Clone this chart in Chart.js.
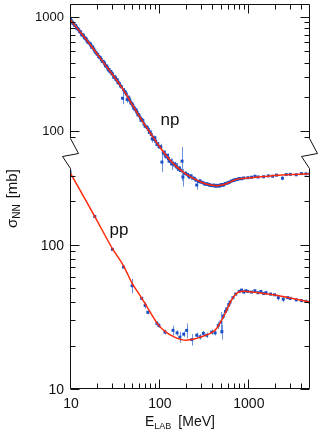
<!DOCTYPE html>
<html lang="en">
<head>
<meta charset="UTF-8">
<title>NN total cross sections</title>
<script src="https://cdn.jsdelivr.net/npm/chart.js@4"></script>
<style>
  html, body { margin: 0; padding: 0; background: #fff; }
  .wrap { position: relative; width: 318px; height: 436px; }
</style>
</head>
<body>
<div class="wrap"><canvas id="xs"></canvas></div>
<script>
// lab energy in MeV, cross sections in mb

// np fit curve
const npCurveE = [10, 12, 15, 20, 25, 30, 40, 50, 60, 70, 80, 100, 120, 150, 200, 250, 300, 350, 400, 450, 500, 550, 600, 700, 800, 1000, 1500, 2000, 3000, 5000];
const npCurveS = [955, 800, 645, 480, 380, 315, 230, 172, 136, 113, 97, 75, 62, 51, 42.5, 38.5, 36, 34.5, 33.8, 33.5, 33.8, 34.5, 35.5, 37.5, 38.5, 39.2, 40.3, 41.2, 42, 42.6];

// np measurements, first group
const npE = [10, 10.3, 10.8, 11.2, 11.6, 12, 12.5, 13, 13.5, 14, 14.5, 15, 15.5, 16, 17, 17.5, 18, 19, 20, 21, 22, 23, 24, 25, 26, 27, 28, 29, 30, 31, 32, 33, 34, 35, 37, 39, 40, 42, 44, 46, 48, 50, 52, 55, 58, 60, 63, 66, 70, 74, 78, 80, 84, 88, 90, 95, 100, 105, 108, 115, 120, 125, 130, 139, 150, 158, 170, 182, 186, 200, 210, 220, 230, 250, 266, 290, 310, 330, 350, 370, 390, 410, 430, 450, 470, 490, 510, 530, 560, 600, 650, 700, 750, 800, 850, 900, 1000, 1100, 1200, 1300, 1500, 1700, 1900, 2100, 2450, 2700, 3000, 3500, 4000, 4500, 5000];
const npS = [940, 935, 880, 850, 840, 790, 775, 745, 700, 695, 660, 650, 620, 600, 580, 545, 548, 505, 478, 452, 440, 410, 405, 376, 372, 345, 336, 331, 318, 298, 300, 284, 282, 266, 250, 195, 232, 220, 190, 196, 180, 174, 160, 155, 140, 137, 125, 124, 111, 108, 98, 99, 86, 85, 88, 77, 74, 73, 54, 66, 60, 62, 55, 52, 52, 49, 48, 55, 40, 43, 42, 40, 41, 39, 34, 37, 35.8, 34.6, 34.8, 34, 33.7, 33.9, 33.3, 33.8, 33.4, 34, 34.2, 34, 35.1, 35.7, 36.8, 37.6, 38, 38.7, 38.6, 39.2, 39.4, 39.8, 40.6, 40, 40.2, 40.9, 40.6, 41.5, 39, 42, 42.2, 41.8, 42.8, 42.6, 42.5];
const npErr = [20, 15, 15, 12, 12, 12, 10, 10, 10, 10, 10, 8, 8, 8, 8, 8, 8, 8, 7, 7, 7, 6, 6, 6, 6, 6, 5, 5, 5, 5, 5, 5, 5, 5, 5, 22, 5, 4, 12, 4, 4, 4, 4, 3, 3, 3, 3, 3, 3, 3, 3, 3, 6, 3, 3, 2, 2, 5, 10, 2, 2, 2, 2, 6, 2, 4, 2, 18, 7, 1.5, 1.5, 1.5, 1, 1, 3, 1, 1, 1, 1, 1, 1, 1, 1, 1, 1, 1, 1, 1, 1, 1, 1, 1, 1, 1, 1, 1, 1, 1, 1, 1, 1, 1, 1, 1, 1.5, 1, 1, 1, 1, 1, 1];

// np measurements, second group
const npE2 = [10.1, 10.6, 11, 11.4, 11.8, 12.2, 12.8, 13.2, 13.8, 14.2, 14.8, 15.2, 15.8, 16.5, 17.2, 18.5, 19.5, 20.5, 21.5, 22.5, 23.5, 24.5, 25.5, 26.5, 27.5, 28.5, 29.5, 31.5, 32.5, 33.5, 34.5, 36, 38, 41, 43, 45, 47, 49, 51, 53, 54, 56, 57, 59, 62, 64, 65, 68, 72, 76, 82, 86, 92, 97, 102, 112, 118, 128, 135, 145, 155, 165, 175, 195, 215, 240, 260, 280, 300, 320, 340, 360, 380, 400, 420, 440, 460, 480, 500, 520, 545, 580, 620, 680, 720, 780];
const npS2 = [955, 905, 875, 845, 815, 795, 750, 735, 700, 685, 655, 640, 610, 590, 565, 525, 490, 470, 445, 425, 408, 392, 372, 358, 348, 333, 320, 300, 292, 283, 270, 262, 245, 224, 212, 200, 188, 176, 168, 160, 155, 150, 146, 140, 131, 127, 125, 116, 110, 104, 94, 89, 82, 78, 73, 65, 62, 58, 55, 52, 50, 47, 45.5, 43, 41, 39, 37.5, 36.5, 36, 35.2, 34.7, 34.3, 34, 33.6, 33.8, 33.4, 33.6, 33.5, 33.9, 34.3, 34.6, 35.2, 36, 37.2, 37.8, 38.4];
const npErr2 = [10, 12, 10, 10, 10, 10, 10, 10, 10, 12, 10, 8, 8, 8, 10, 8, 8, 8, 8, 8, 8, 8, 7, 7, 7, 7, 7, 6, 6, 6, 6, 6, 6, 5, 5, 5, 5, 5, 5, 5, 5, 4, 4, 4, 4, 4, 4, 4, 4, 4, 3, 3, 3, 3, 3, 3, 3, 3, 3, 3, 3, 2, 2, 2, 2, 1.5, 1.5, 1.5, 1, 1, 1, 1, 1, 1, 1, 1, 1, 1, 1, 1, 1, 1, 1, 1, 1, 1];

// pp fit curve
const ppCurveE = [10, 12, 15, 20, 25, 30, 40, 50, 60, 70, 80, 100, 120, 150, 180, 200, 250, 300, 350, 400, 450, 500, 550, 600, 650, 700, 750, 800, 900, 1000, 1200, 1500, 2000, 3000, 4000, 5000];
const ppCurveS = [318, 260, 204, 148, 115, 94, 71.5, 54, 45.5, 39, 34, 27.5, 24.8, 22.9, 22, 21.8, 22.2, 23, 23.8, 24.8, 26.5, 29.5, 33, 37, 41, 44, 46, 47.2, 47.6, 47.5, 46.8, 46, 44.8, 42.8, 41.3, 40];

// pp measurements
const ppE = [10, 19, 30, 40, 50, 64, 70, 75, 95, 100, 117, 144, 160, 172, 190, 205, 234, 266, 290, 316, 345, 392, 428, 465, 497, 510, 530, 560, 580, 610, 630, 680, 730, 800, 850, 900, 950, 1000, 1100, 1200, 1300, 1400, 1500, 1600, 1800, 2000, 2200, 2500, 2800, 3000, 3500, 4000, 4500, 5000];
const ppS = [320, 157, 93, 70, 52, 42.5, 38, 34, 28.5, 27.5, 24.8, 25.5, 24.5, 22.9, 24, 25.5, 22, 23.6, 23, 24.3, 23.6, 24.8, 24.5, 27.6, 29.1, 25, 32, 34.5, 36, 38.5, 40, 43, 45.5, 47.5, 48.5, 47, 48, 47.5, 47, 48, 46.5, 47.5, 46, 46.5, 45.5, 45, 43, 42, 43, 42.5, 41.5, 41, 40.5, 40];
const ppErr = [4, 2, 1.5, 1.5, 6, 1, 2, 1, 1, 1, 1, 2, 1, 2, 1, 3, 2, 1, 1, 1, 1, 1, 1, 1.5, 5, 3, 1.5, 1.5, 1.5, 1.5, 1.5, 1, 1, 1, 1, 1, 1, 1, 1, 1, 1, 1, 1, 1.5, 1, 1, 2, 2, 1, 1, 1, 1, 1, 1];

// tick marks and labels
const xTicks = [10, 20, 30, 40, 50, 60, 70, 80, 90, 100, 200, 300, 400, 500, 600, 700, 800, 900, 1000, 2000, 3000, 4000];
const xTickLabels = ['10', '100', '1000'];
const npTicks = [90, 100, 200, 300, 400, 500, 600, 700, 800, 900, 1000];
const npTickLabels = ['100', '1000'];
const ppTicks = [10, 20, 30, 40, 50, 60, 70, 80, 90, 100, 200, 300];
const ppTickLabels = ['10', '100'];

const pts = (xs, ys) => xs.map((x, i) => ({ x: x, y: ys[i] }));

const BLUE = '#1a4fc6';
const ERR_BLUE = 'rgba(70, 120, 210, 0.8)';
const RED = '#ff2a0a';
const INK = '#111';

// axis is broken between these two values (np scale above, pp scale below)
const npBreak = 88;
const ppBreak = 340;

const errorBars = {
    id: 'errorBars',
    beforeDatasetsDraw(chart) {
        const ctx = chart.ctx;
        const x = chart.scales.x;
        ctx.save();
        ctx.beginPath();
        ctx.rect(chart.chartArea.left, chart.chartArea.top, chart.chartArea.width, chart.chartArea.height);
        ctx.clip();
        ctx.strokeStyle = ERR_BLUE;
        ctx.lineWidth = 1;
        chart.data.datasets.forEach(ds => {
            if (!ds.errs) return;
            const y = chart.scales[ds.yAxisID];
            ds.data.forEach((p, i) => {
                const px = Math.round(x.getPixelForValue(p.x)) + 0.5;
                ctx.beginPath();
                ctx.moveTo(px, y.getPixelForValue(p.y + ds.errs[i]));
                ctx.lineTo(px, y.getPixelForValue(p.y - ds.errs[i]));
                ctx.stroke();
            });
        });
        ctx.restore();
    }
};

const frame = {
    id: 'frame',
    afterDraw(chart) {
        const ctx = chart.ctx;
        const a = chart.chartArea;
        const x = chart.scales.x, yNp = chart.scales.yNp, yPp = chart.scales.yPp;
        const L = a.left + 0.5, R = a.right - 0.5, T = a.top + 0.5, B = a.bottom - 0.5;
        const brTop = Math.round(yNp.getPixelForValue(npBreak)) + 0.5;
        const brBot = Math.round(yPp.getPixelForValue(ppBreak)) + 0.5;
        ctx.save();
        ctx.strokeStyle = INK;
        ctx.lineWidth = 1;

        // top and bottom axes
        ctx.beginPath();
        ctx.moveTo(L, T); ctx.lineTo(R, T);
        ctx.moveTo(L, B); ctx.lineTo(R, B);
        ctx.stroke();

        // side axes with break marks
        [L, R].forEach(ax => {
            ctx.beginPath();
            ctx.moveTo(ax, T);
            ctx.lineTo(ax, brTop);
            ctx.lineTo(ax + 8, brTop + 15);
            ctx.lineTo(ax - 8, brTop + 18);
            ctx.lineTo(ax, brBot);
            ctx.lineTo(ax, B);
            ctx.stroke();
        });

        const isMajor = v => Math.abs(Math.log10(v) - Math.round(Math.log10(v))) < 1e-9;

        // x ticks, pointing inward
        ctx.beginPath();
        xTicks.forEach(v => {
            const px = Math.round(x.getPixelForValue(v)) + 0.5;
            const len = isMajor(v) ? 9 : 5;
            ctx.moveTo(px, B); ctx.lineTo(px, B - len);
            ctx.moveTo(px, T); ctx.lineTo(px, T + len);
        });
        // y ticks on both sides
        const yTicks = (scale, list, keep) => {
            list.forEach(v => {
                const py = Math.round(scale.getPixelForValue(v)) + 0.5;
                if (!keep(py)) return;
                const len = isMajor(v) ? 9 : 5;
                ctx.moveTo(L, py); ctx.lineTo(L + len, py);
                ctx.moveTo(R, py); ctx.lineTo(R - len, py);
            });
        };
        yTicks(yNp, npTicks, py => py <= brTop + 0.1);
        yTicks(yPp, ppTicks, py => py >= brBot - 0.1);
        ctx.stroke();

        // tick labels
        ctx.fillStyle = INK;
        ctx.font = '14px "Liberation Sans", Arial, sans-serif';
        ctx.textAlign = 'center';
        ctx.textBaseline = 'top';
        xTickLabels.forEach(t => ctx.fillText(t, x.getPixelForValue(+t) + 1, a.bottom + 8));
        ctx.textAlign = 'right';
        ctx.textBaseline = 'middle';
        ctx.font = '13px "Liberation Sans", Arial, sans-serif';
        npTickLabels.forEach(t => ctx.fillText(t, a.left - 6, yNp.getPixelForValue(+t)));
        ctx.font = '14px "Liberation Sans", Arial, sans-serif';
        ppTickLabels.forEach(t => ctx.fillText(t, a.left - 6, yPp.getPixelForValue(+t) + 1));

        // curve labels
        ctx.font = '17px "Liberation Sans", Arial, sans-serif';
        ctx.textAlign = 'center';
        ctx.textBaseline = 'alphabetic';
        ctx.fillText('np', 170, 125);
        ctx.fillText('pp', 119, 235);

        // x title: E_LAB [MeV]
        ctx.textAlign = 'left';
        let cx = 145;
        ctx.font = '14px "Liberation Sans", Arial, sans-serif';
        ctx.fillText('E', cx, 426);
        cx += ctx.measureText('E').width;
        ctx.font = '9px "Liberation Sans", Arial, sans-serif';
        ctx.fillText('LAB', cx, 429);
        cx += ctx.measureText('LAB').width + 7;
        ctx.font = '14px "Liberation Sans", Arial, sans-serif';
        ctx.fillText('[MeV]', cx, 426);

        // y title: sigma_NN [mb], rotated
        ctx.translate(17, 228);
        ctx.rotate(-Math.PI / 2);
        let cy = 0;
        ctx.font = '15px "Liberation Sans", Arial, sans-serif';
        ctx.fillText('σ', cy, 0);
        cy += ctx.measureText('σ').width;
        ctx.font = '10px "Liberation Sans", Arial, sans-serif';
        ctx.fillText('NN', cy, 3);
        cy += ctx.measureText('NN').width + 6;
        ctx.font = '15px "Liberation Sans", Arial, sans-serif';
        ctx.fillText('[mb]', cy, 0);
        ctx.restore();
    }
};

const dataStyle = { pointStyle: 'rect', pointRadius: 2.1, pointBackgroundColor: BLUE, pointBorderWidth: 0, order: 1 };

new Chart(document.getElementById('xs'), {
    type: 'scatter',
    data: {
        datasets: [
            { label: 'np fit', data: pts(npCurveE, npCurveS), yAxisID: 'yNp', showLine: true, borderColor: RED, borderWidth: 1.5, pointRadius: 0, cubicInterpolationMode: 'monotone', order: 0 },
            { label: 'pp fit', data: pts(ppCurveE, ppCurveS), yAxisID: 'yPp', showLine: true, borderColor: RED, borderWidth: 1.5, pointRadius: 0, cubicInterpolationMode: 'monotone', order: 0 },
            { label: 'np data', data: pts(npE, npS), errs: npErr, yAxisID: 'yNp', ...dataStyle },
            { label: 'np data (2)', data: pts(npE2, npS2), errs: npErr2, yAxisID: 'yNp', ...dataStyle },
            { label: 'pp data', data: pts(ppE, ppS), errs: ppErr, yAxisID: 'yPp', ...dataStyle }
        ]
    },
    options: {
        responsive: true,
        maintainAspectRatio: false,
        animation: false,
        layout: { padding: { left: 70, right: 8, top: 2, bottom: 47 } },
        plugins: { legend: { display: false }, tooltip: { enabled: false } },
        scales: {
            x: { type: 'logarithmic', min: 10, max: 5000, display: false },
            yNp: { type: 'logarithmic', min: 0.561, max: 1300, display: false },
            yPp: { type: 'logarithmic', min: 10, max: 4670, display: false }
        }
    },
    plugins: [errorBars, frame]
});
</script>
</body>
</html>
